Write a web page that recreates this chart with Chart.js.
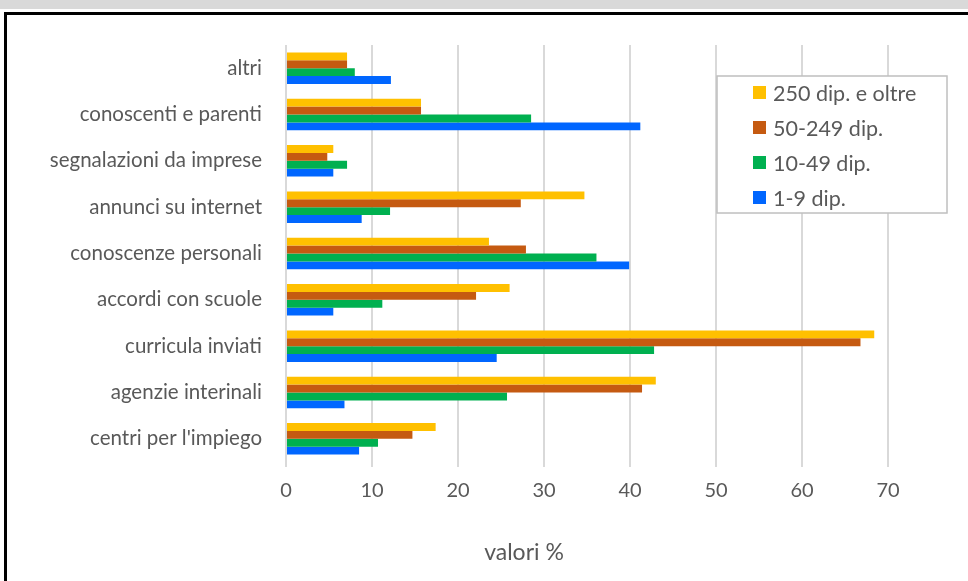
<!DOCTYPE html>
<html>
<head>
<meta charset="utf-8">
<script src="https://cdn.jsdelivr.net/npm/chart.js@4.4.1/dist/chart.umd.min.js"></script>
<style>
  html, body { margin: 0; padding: 0; background: #fff; overflow: hidden; width: 968px; height: 581px; }
  .strip { position: absolute; left: 0; top: 0; width: 968px; height: 9px; background: #d9d9d9; }
  .frame { position: absolute; left: 4px; top: 12px; width: 1200px; height: 800px; border: 3px solid #000; }
  .wrap { position: absolute; left: 0; top: 0; width: 1010px; height: 581px; }
</style>
</head>
<body>
<div class="strip"></div>
<div class="frame"></div>
<div class="wrap"><canvas id="myChart"></canvas></div>
<script>
// categorie, dall'alto verso il basso
const categorie = ['altri', 'conoscenti e parenti', 'segnalazioni da imprese', 'annunci su internet',
    'conoscenze personali', 'accordi con scuole', 'curricula inviati', 'agenzie interinali', "centri per l'impiego"];

const serie = ['250 dip. e oltre', '50-249 dip.', '10-49 dip.', '1-9 dip.'];
const colori = ['#FFC000', '#C55A11', '#00B050', '#0066FF'];

// valori %
const oltre250 = [7.1, 15.7, 5.5, 34.7, 23.6, 26.0, 68.4, 43.0, 17.4];
const da50a249 = [7.1, 15.7, 4.8, 27.3, 27.9, 22.1, 66.8, 41.4, 14.7];
const da10a49  = [8.0, 28.5, 7.1, 12.1, 36.1, 11.2, 42.8, 25.7, 10.7];
const da1a9    = [12.2, 41.2, 5.5, 8.8, 39.9, 5.5, 24.5, 6.8, 8.5];

const tickX = [0, 10, 20, 30, 40, 50, 60, 70];

const grigio = '#595959';
const font = 'Lato, "Open Sans", sans-serif';

// legenda dentro l'area del grafico, come in Excel
const legendaBox = {
    id: 'legendaBox',
    afterDraw(chart) {
        const ctx = chart.ctx;
        ctx.save();
        ctx.fillStyle = '#fff';
        ctx.fillRect(717, 76, 230, 137);
        ctx.strokeStyle = '#bfbfbf';
        ctx.lineWidth = 1.5;
        ctx.strokeRect(717, 76, 230, 137);
        ctx.font = '21.5px ' + font;
        ctx.textBaseline = 'middle';
        chart.data.datasets.forEach((ds, i) => {
            const y = 93 + i * 35;
            ctx.fillStyle = ds.backgroundColor;
            ctx.fillRect(753, y - 7, 13, 13);
            ctx.fillStyle = grigio;
            ctx.fillText(ds.label, 773, y + 1);
        });
        // titolo asse
        ctx.font = '23px ' + font;
        ctx.textAlign = 'center';
        ctx.fillText('valori %', 524, 553);
        ctx.restore();
    }
};

const valori = [oltre250, da50a249, da10a49, da1a9];

new Chart(document.getElementById('myChart'), {
    type: 'bar',
    data: {
        labels: categorie,
        datasets: serie.map((s, i) => ({
            label: s,
            data: valori[i],
            backgroundColor: colori[i],
            borderWidth: 0,
            categoryPercentage: 0.68,
            barPercentage: 1.0
        }))
    },
    options: {
        indexAxis: 'y',
        responsive: true,
        maintainAspectRatio: false,
        animation: false,
        layout: { padding: { top: 45, right: 36, left: 0, bottom: 0 } },
        plugins: {
            legend: { display: false },
            tooltip: { enabled: false }
        },
        scales: {
            x: {
                min: 0,
                max: 80,
                afterBuildTicks: (scale) => { scale.ticks = tickX.concat([80]).map(v => ({ value: v })); },
                ticks: {
                    color: grigio,
                    font: { family: font, size: 20 },
                    padding: 12,
                    callback: (v) => tickX.includes(v) ? v : ''
                },
                grid: { color: '#d9d9d9', lineWidth: 2, tickLength: 5, tickColor: '#d9d9d9' },
                border: { display: false },
                afterFit: (scale) => { scale.height = 581 - 462; }
            },
            y: {
                ticks: {
                    color: grigio,
                    font: { family: font, size: 20.5 },
                    padding: 16
                },
                grid: { display: false },
                border: { display: false },
                afterFit: (scale) => { scale.width = 286; }
            }
        }
    },
    plugins: [legendaBox]
});
</script>
</body>
</html>
